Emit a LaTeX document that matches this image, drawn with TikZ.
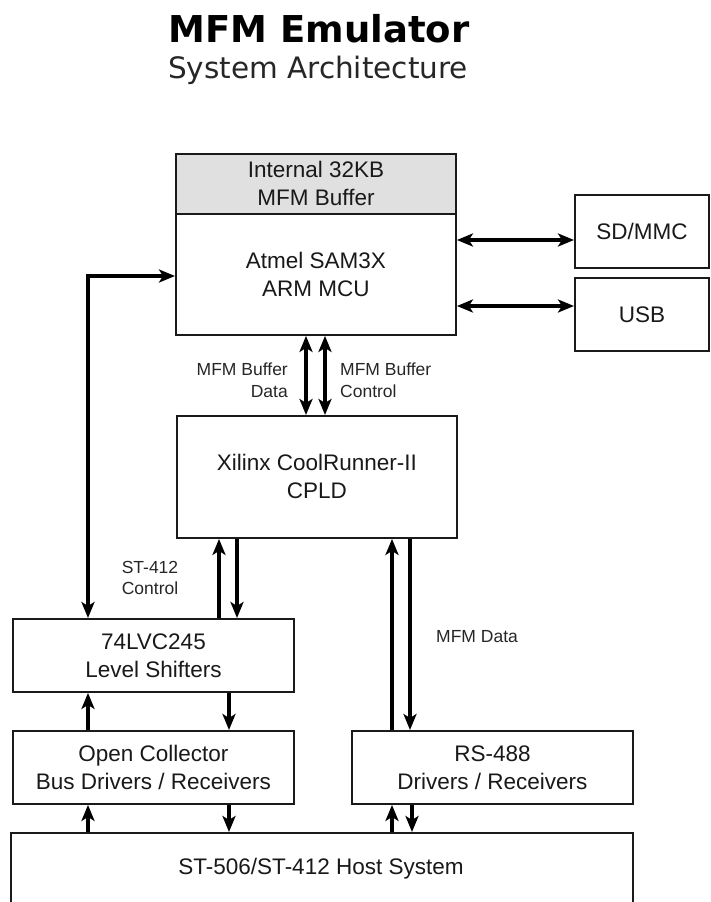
\documentclass[tikz,border=0pt]{standalone}
\usepackage{fontspec}
\setmainfont{Liberation Sans}
\newfontfamily\titlefont{DejaVu Sans}
\usetikzlibrary{arrows.meta}
\definecolor{bufgray}{HTML}{E0E0E0}
\definecolor{linec}{HTML}{1A1A1A}
\begin{document}
\begin{tikzpicture}[x=1pt,y=-1pt,
  box/.style={draw=linec,line width=1.9pt,fill=white,anchor=north west,inner sep=0pt,
    align=center,font=\fontsize{22.5}{28}\selectfont,text=black!90},
  lbl/.style={inner sep=0pt,font=\fontsize{17.5}{21.5}\selectfont,text=black!85},
  tip/.tip={Stealth[length=16pt,width=13pt,inset=4pt]},
  arr/.style={draw=black,line width=3.6pt,arrows={-tip}},
  darr/.style={draw=black,line width=3.6pt,arrows={tip-tip}},
  harr/.style={draw=black,line width=3.2pt,arrows={tip-tip}}
]
\useasboundingbox (0,0) rectangle (710,902);
% title
\node[inner sep=0pt,font=\titlefont\bfseries\fontsize{37}{40}\selectfont] (title) at (319,29) {MFM Emulator};
\node[inner sep=0pt,font=\titlefont\fontsize{29.5}{32}\selectfont,text=black!85] (subtitle) at (318,70) {System Architecture};
% boxes
\node[box,fill=bufgray,minimum width=280pt,minimum height=60pt] (buf) at (175,153) {Internal 32KB\\MFM Buffer};
\node[box,minimum width=280pt,minimum height=121pt] (mcu) at (175,213) {Atmel SAM3X\\ARM MCU};
\node[box,minimum width=134pt,minimum height=73pt] (sd) at (574,194) {SD/MMC};
\node[box,minimum width=134pt,minimum height=73pt] (usb) at (574,277) {USB};
\node[box,minimum width=280pt,minimum height=122pt] (cpld) at (176,415) {Xilinx CoolRunner-II\\CPLD};
\node[box,minimum width=281pt,minimum height=73pt] (ls) at (12,618) {74LVC245\\Level Shifters};
\node[box,minimum width=281pt,minimum height=73pt] (oc) at (12,730) {Open Collector\\Bus Drivers / Receivers};
\node[box,minimum width=281pt,minimum height=73pt] (rs) at (351,730) {RS-488\\Drivers / Receivers};
\node[box,minimum width=622pt,minimum height=110pt] (host) at (10,832) {};
\node[inner sep=0pt,font=\fontsize{22.5}{28}\selectfont,text=black!90] (hostlbl) at (321,869) {ST-506/ST-412 Host System};
% labels
\node[lbl,anchor=east,align=right] (l1) at (288,380) {MFM Buffer\\Data};
\node[lbl,anchor=west,align=left] (l2) at (340,380) {MFM Buffer\\Control};
\node[lbl,align=center] (l3) at (150,578) {ST-412\\Control};
\node[lbl,anchor=west] (l4) at (436,637) {MFM Data};
% connectors
\draw[harr] (mcu.east |- 0,240) -- (sd.west |- 0,240);
\draw[harr] (mcu.east |- 0,306) -- (usb.west |- 0,306);
\draw[darr] (mcu.south -| 306,0) -- (cpld.north -| 306,0);
\draw[darr] (mcu.south -| 325,0) -- (cpld.north -| 325,0);
\draw[darr] (ls.north -| 88,0) |- (mcu.west |- 0,276);
\draw[arr] (ls.north -| 219,0) -- (cpld.south -| 219,0);
\draw[arr] (cpld.south -| 237,0) -- (ls.north -| 237,0);
\draw[arr] (rs.north -| 392,0) -- (cpld.south -| 392,0);
\draw[arr] (cpld.south -| 410,0) -- (rs.north -| 410,0);
\draw[arr] (oc.north -| 88,0) -- (ls.south -| 88,0);
\draw[arr] (ls.south -| 229,0) -- (oc.north -| 229,0);
\draw[arr] (host.north -| 88,0) -- (oc.south -| 88,0);
\draw[arr] (oc.south -| 229,0) -- (host.north -| 229,0);
\draw[arr] (host.north -| 392,0) -- (rs.south -| 392,0);
\draw[arr] (rs.south -| 412,0) -- (host.north -| 412,0);
\end{tikzpicture}
\end{document}
